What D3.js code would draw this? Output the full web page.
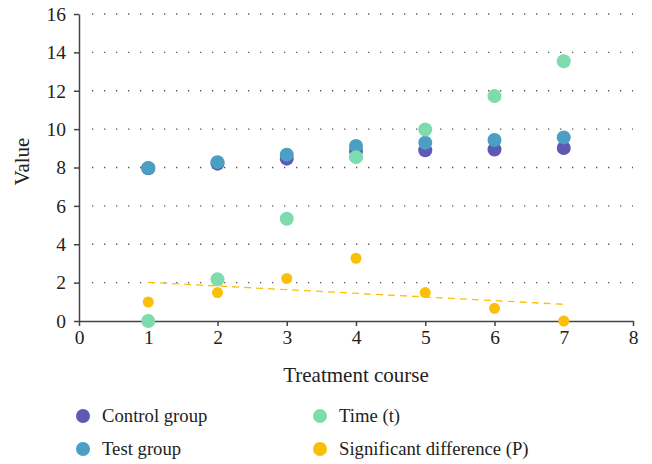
<!DOCTYPE html>
<html>
<head>
<meta charset="utf-8">
<script src="https://cdn.jsdelivr.net/npm/d3@7"></script>
<style>
  body { margin: 0; background: #fff; }
  svg text { font-family: "Liberation Serif", serif; fill: #222; }
</style>
</head>
<body>
<svg></svg>
<script>
const size = {w: 652, h: 464};
const margin = {t: 14, r: 19, b: 143, l: 79};
const fontFam = '"Liberation Serif", serif';

// data
const courses = [1, 2, 3, 4, 5, 6, 7];
const controlGroup = [7.96, 8.2, 8.46, 8.86, 8.9, 8.94, 9.02];
const testGroup = [7.98, 8.28, 8.67, 9.12, 9.29, 9.43, 9.57];
const timeT = [0.0, 2.17, 5.33, 8.54, 9.98, 11.72, 13.54];
const sigP = [0.99, 1.48, 2.22, 3.27, 1.48, 0.66, 0.0];
const xTicks = [0, 1, 2, 3, 4, 5, 6, 7, 8];
const yTicks = [0, 2, 4, 6, 8, 10, 12, 14, 16];

const series = [
    {name: 'Control group', values: controlGroup, color: '#6058b5', r: 7},
    {name: 'Test group', values: testGroup, color: '#4b9fc3', r: 7},
    {name: 'Time (t)', values: timeT, color: '#7ddbae', r: 7},
    {name: 'Significant difference (P)', values: sigP, color: '#fbbf0a', r: 5.5}
];

const svg = d3.select('svg')
    .attr('width', size.w)
    .attr('height', size.h)
    .style('font-family', fontFam);

const x = d3.scaleLinear().domain([0, 8]).range([margin.l, size.w - margin.r]);
const y = d3.scaleLinear().domain([0, 16]).range([size.h - margin.b, margin.t]);

// dotted grid
svg.append('g')
    .selectAll('line')
    .data(yTicks.filter(d => d > 0))
    .enter()
    .append('line')
    .attr('x1', x(0) + 13)
    .attr('x2', x(8))
    .attr('y1', d => y(d))
    .attr('y2', d => y(d))
    .attr('stroke', '#555')
    .attr('stroke-width', 1.3)
    .attr('stroke-dasharray', '1.3 10.7');

// axes
let yAxis = svg.append('g')
    .attr('transform', `translate(${x(0)},0)`)
    .call(d3.axisLeft(y).tickValues(yTicks).tickSize(5).tickSizeOuter(0));

let xAxis = svg.append('g')
    .attr('transform', `translate(0,${y(0)})`)
    .call(d3.axisBottom(x).tickValues(xTicks).tickSize(5).tickSizeOuter(0));

[xAxis, yAxis].forEach(function (g) {
    g.attr('font-family', fontFam).attr('font-size', 19.5);
    g.selectAll('path, line').attr('stroke', '#444').attr('stroke-width', 1.5);
    g.selectAll('text').attr('fill', '#222');
});
yAxis.selectAll('text').attr('x', -13);
xAxis.selectAll('text').attr('y', 9);

// axis titles
svg.append('text')
    .attr('x', (x(0) + x(8)) / 2)
    .attr('y', 382)
    .attr('text-anchor', 'middle')
    .style('font-size', '21px')
    .text('Treatment course');

svg.append('text')
    .attr('transform', `translate(29,${(y(0) + y(16)) / 2 - 6}) rotate(-90)`)
    .attr('text-anchor', 'middle')
    .style('font-size', '21px')
    .text('Value');

// trend line for P (least squares fit)
let mx = d3.mean(courses), my = d3.mean(sigP);
let slope = d3.sum(courses, (c, i) => (c - mx) * (sigP[i] - my)) / d3.sum(courses, c => (c - mx) * (c - mx));
let icpt = my - slope * mx;
let ends = [courses[0], courses[courses.length - 1]];
svg.append('line')
    .attr('x1', x(ends[0])).attr('y1', y(icpt + slope * ends[0]))
    .attr('x2', x(ends[1])).attr('y2', y(icpt + slope * ends[1]))
    .attr('stroke', '#fbbf0a')
    .attr('stroke-width', 1.3)
    .attr('stroke-dasharray', '7 5');

// points
series.forEach(function (s) {
    svg.append('g')
        .selectAll('circle')
        .data(s.values)
        .enter()
        .append('circle')
        .attr('cx', (d, i) => x(courses[i]))
        .attr('cy', d => y(d))
        .attr('r', s.r)
        .attr('fill', s.color);
});

// legend: column 1 = control, test ; column 2 = time, P
let legend = svg.append('g')
    .selectAll('g')
    .data(series)
    .enter()
    .append('g')
    .attr('transform', function (d, i) {
        let col = i < 2 ? 0 : 1;
        let row = i % 2;
        return `translate(${col === 0 ? 83 : 320},${row === 0 ? 416 : 449})`;
    });

legend.append('circle')
    .attr('r', 7)
    .attr('fill', d => d.color);

legend.append('text')
    .attr('x', 19)
    .attr('dy', '0.33em')
    .style('font-size', '18.7px')
    .text(d => d.name);
</script>
</body>
</html>
